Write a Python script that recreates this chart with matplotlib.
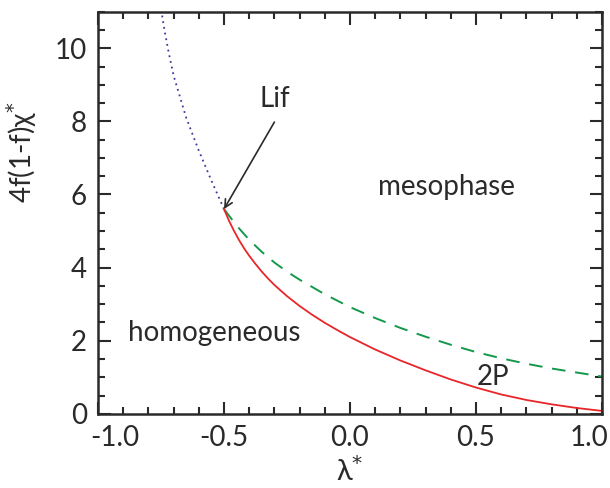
import matplotlib
matplotlib.use("Agg")
import matplotlib.pyplot as plt
from matplotlib.ticker import MultipleLocator

# values
lam_2p = [-0.500, -0.480, -0.460, -0.440, -0.420, -0.400, -0.375, -0.350, -0.325, -0.300,
          -0.25, -0.20, -0.15, -0.10, -0.05, 0.00, 0.10, 0.20, 0.30, 0.40,
          0.50, 0.60, 0.70, 0.80, 0.90, 1.00]
chi_2p = [5.60, 5.28, 5.00, 4.75, 4.525, 4.325, 4.10, 3.89, 3.70, 3.525,
          3.22, 2.95, 2.71, 2.49, 2.29, 2.10, 1.76, 1.46, 1.19, 0.94,
          0.72, 0.53, 0.38, 0.26, 0.16, 0.08]

lam_meso = [-0.50, -0.45, -0.40, -0.35, -0.30, -0.25, -0.20, -0.10, 0.00, 0.10,
            0.20, 0.30, 0.40, 0.50, 0.60, 0.70, 0.80, 0.90, 1.00]
chi_meso = [5.60, 5.15, 4.76, 4.43, 4.14, 3.89, 3.67, 3.27, 2.92, 2.62,
            2.35, 2.11, 1.89, 1.69, 1.52, 1.37, 1.24, 1.13, 1.02]

lam_dot = [-0.500, -0.550, -0.600, -0.650, -0.700, -0.720, -0.735, -0.748]
chi_dot = [5.60, 6.38, 7.20, 8.10, 9.25, 9.90, 10.45, 11.00]

lif = (-0.50, 5.60)
lif_tail = (-0.30, 7.98)

xticks = [-1.0, -0.5, 0.0, 0.5, 1.0]
xticklabels = ['-1.0', '-0.5', '0.0', '0.5', '1.0']
# the two end labels are pulled inward, offsets in points
end_shift = {0: 12, 4: -9}

plt.rcParams['font.family'] = ['Lato', 'DejaVu Sans']
plt.rcParams['mathtext.fontset'] = 'dejavusans'
ink = '#2a2a2a'

fig = plt.figure(figsize=(6.1, 4.88), dpi=100)
ax = fig.add_axes([0.1607, 0.152, 0.826, 0.824])

ax.plot(lam_dot, chi_dot, color='#3a3a9a', linestyle=(0, (1, 2.2)), linewidth=1.3)
ax.plot(lam_meso, chi_meso, color='#14984a', linestyle=(0, (7, 5)), linewidth=1.4)
ax.plot(lam_2p, chi_2p, color='#e8262a', linewidth=1.3)

ax.annotate('', xy=lif, xytext=lif_tail,
            arrowprops=dict(arrowstyle='->', color=ink, lw=1.2,
                            shrinkA=0, shrinkB=0, mutation_scale=14))
ax.text(-0.30, 8.62, 'Lif', fontsize=20, ha='center', va='center', color=ink)
ax.text(0.385, 6.2, 'mesophase', fontsize=20, ha='center', va='center', color=ink)
ax.text(-0.54, 2.22, 'homogeneous', fontsize=20, ha='center', va='center', color=ink)
ax.text(0.567, 1.02, '2P', fontsize=20, ha='center', va='center', color=ink)

ax.set_xlim(-1.0, 1.0)
ax.set_ylim(0, 11)
ax.set_xticks(xticks)
ax.set_xticklabels([('' if i in end_shift else t) for i, t in enumerate(xticklabels)])
ax.xaxis.set_minor_locator(MultipleLocator(0.1))
ax.yaxis.set_major_locator(MultipleLocator(2))
ax.yaxis.set_minor_locator(MultipleLocator(0.5))

ax.tick_params(which='both', direction='in', top=True, right=True, width=1.5,
               color=ink, labelsize=20, labelcolor=ink)
ax.tick_params(which='major', length=9, pad=8)
ax.tick_params(which='minor', length=5)
for s in ax.spines.values():
    s.set_linewidth(1.8)
    s.set_color(ink)

for i, dx in end_shift.items():
    ax.annotate(xticklabels[i], xy=(xticks[i], 0), xycoords=('data', 'axes fraction'),
                xytext=(dx, -8), textcoords='offset points',
                ha='center', va='top', fontsize=20, color=ink)

ax.set_xlabel('λ$^{*}$', fontsize=21, color=ink, labelpad=4)
ax.set_ylabel('4f(1-f)χ$^{*}$', fontsize=20, color=ink)
ax.yaxis.set_label_coords(-0.118, 0.65)

fig.savefig('out.png', dpi=100)
